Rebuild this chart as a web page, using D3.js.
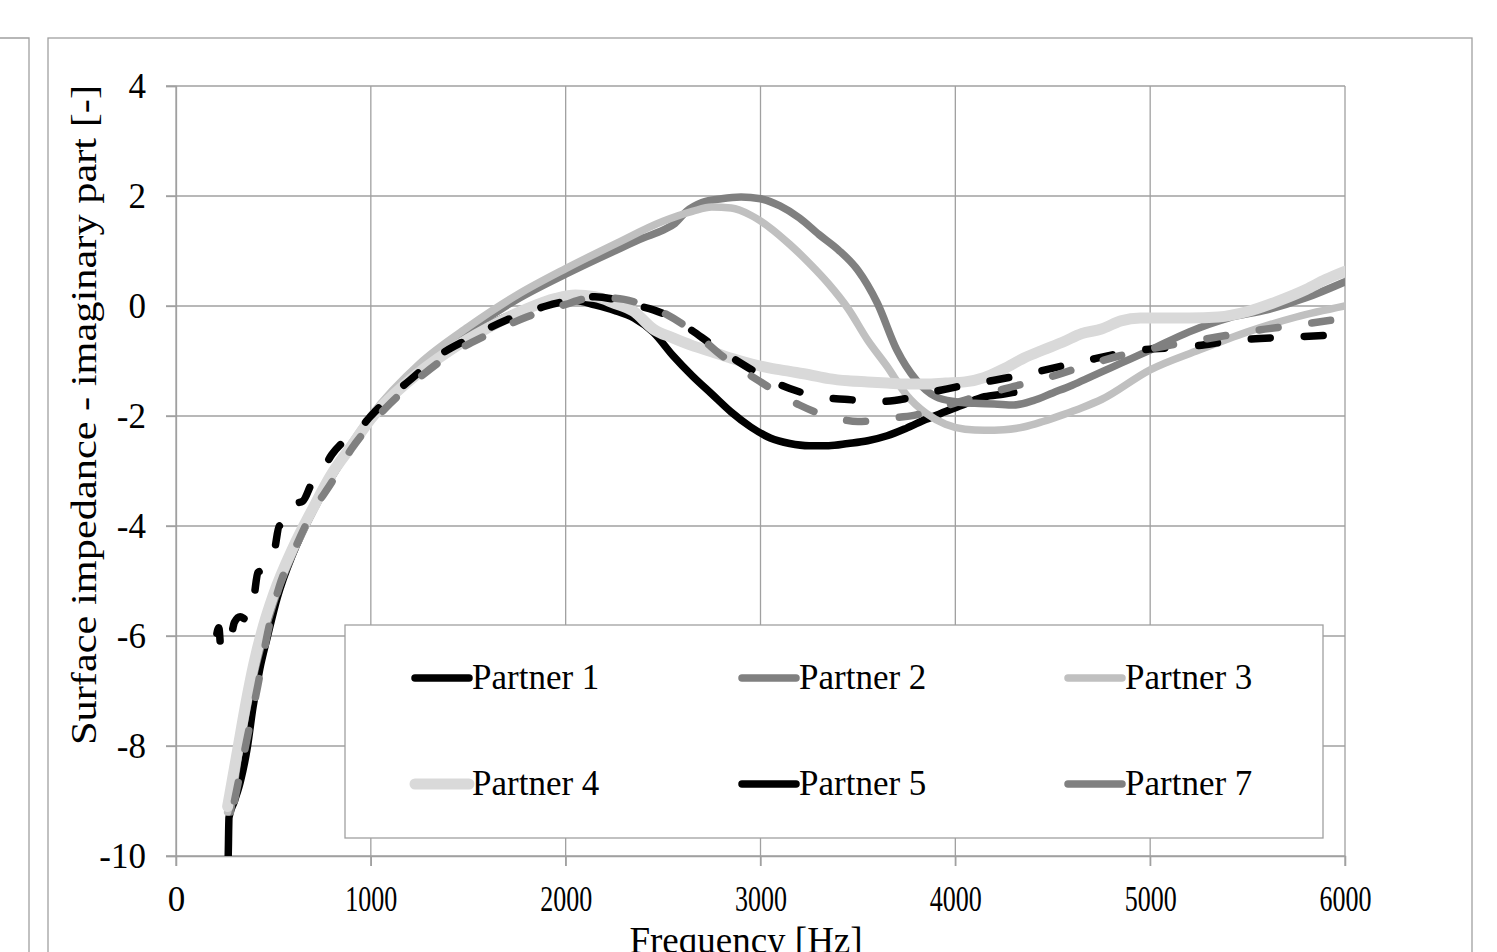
<!DOCTYPE html>
<html>
<head>
<meta charset="utf-8">
<script src="https://cdn.jsdelivr.net/npm/d3@7"></script>
<style>
  body { margin: 0; background: #fff; }
  svg { display: block; }
  text { font-family: "Liberation Serif", "Times New Roman", serif; fill: #000; }
</style>
</head>
<body>
<svg id="chart" width="1497" height="952"></svg>
<script>
// values: frequency [Hz] and imaginary part of surface impedance
var p1Freq = [262, 268, 272, 300, 330, 365, 395, 430, 470, 520, 600, 700, 800, 900, 1000, 1200, 1400, 1600, 1800, 1950, 2050, 2150, 2250, 2350, 2450, 2550, 2650, 2750, 2850, 2950, 3050, 3150, 3250, 3350, 3450, 3550, 3650, 3750, 3850, 3950, 4050, 4150, 4250, 4300]
var p1Val  = [-10.6, -10.0, -9.3, -9.0, -8.65, -8.05, -7.3, -6.6, -6.0, -5.3, -4.5, -3.75, -3.1, -2.55, -2.05, -1.3, -0.75, -0.35, -0.05, 0.08, 0.1, 0.02, -0.08, -0.22, -0.48, -0.9, -1.27, -1.6, -1.93, -2.2, -2.4, -2.5, -2.54, -2.54, -2.5, -2.45, -2.36, -2.22, -2.06, -1.92, -1.78, -1.65, -1.6, -1.57]

var p2Freq = [280, 320, 360, 400, 450, 500, 600, 700, 800, 900, 1000, 1250, 1500, 1750, 2000, 2250, 2400, 2500, 2560, 2620, 2700, 2800, 2900, 3000, 3100, 3200, 3300, 3400, 3500, 3600, 3700, 3800, 3900, 4000, 4100, 4200, 4300, 4400, 4500, 4600, 4700, 4800, 4900, 5000, 5200, 5400, 5600, 5800, 6000]
var p2Val  = [-9.2, -8.2, -7.4, -6.7, -6.0, -5.4, -4.5, -3.75, -3.1, -2.55, -2.05, -1.12, -0.45, 0.12, 0.58, 1.0, 1.24, 1.38, 1.5, 1.72, 1.88, 1.95, 1.98, 1.95, 1.82, 1.6, 1.3, 1.02, 0.65, 0.05, -0.8, -1.35, -1.65, -1.74, -1.77, -1.78, -1.8, -1.72, -1.58, -1.44, -1.28, -1.12, -0.96, -0.8, -0.47, -0.22, -0.07, 0.15, 0.44]

var p3Freq = [265, 290, 320, 360, 400, 450, 500, 600, 700, 800, 900, 1000, 1250, 1500, 1750, 2000, 2250, 2500, 2650, 2750, 2850, 2950, 3050, 3150, 3250, 3350, 3450, 3550, 3650, 3750, 3850, 3950, 4050, 4150, 4250, 4350, 4450, 4550, 4650, 4750, 5000, 5250, 5500, 5750, 6000]
var p3Val  = [-9.2, -8.8, -8.1, -7.3, -6.6, -5.9, -5.3, -4.4, -3.7, -3.05, -2.5, -2.0, -1.05, -0.38, 0.2, 0.68, 1.12, 1.54, 1.72, 1.8, 1.78, 1.65, 1.42, 1.12, 0.78, 0.4, -0.05, -0.62, -1.1, -1.62, -1.95, -2.15, -2.24, -2.26, -2.25, -2.2, -2.1, -1.98, -1.85, -1.7, -1.16, -0.8, -0.47, -0.2, 0.0]

var p4Freq = [265, 290, 320, 360, 400, 450, 500, 600, 700, 800, 900, 1000, 1200, 1400, 1600, 1800, 1950, 2050, 2150, 2250, 2350, 2450, 2550, 2650, 2750, 2850, 2950, 3050, 3150, 3250, 3350, 3450, 3550, 3650, 3750, 3850, 3950, 4050, 4150, 4250, 4350, 4450, 4550, 4650, 4750, 4850, 4950, 5050, 5200, 5350, 5500, 5650, 5800, 5900, 6000]
var p4Val  = [-9.1, -8.6, -8.0, -7.2, -6.5, -5.8, -5.25, -4.4, -3.7, -3.05, -2.55, -2.05, -1.35, -0.82, -0.4, -0.05, 0.14, 0.2, 0.17, 0.05, -0.1, -0.42, -0.58, -0.72, -0.83, -0.95, -1.05, -1.13, -1.19, -1.25, -1.32, -1.36, -1.38, -1.4, -1.42, -1.42, -1.4, -1.38, -1.3, -1.14, -0.95, -0.8, -0.66, -0.5, -0.42, -0.27, -0.22, -0.22, -0.22, -0.2, -0.1, 0.08, 0.3, 0.48, 0.63]

var p5Freq = [210, 220, 230, 245, 260, 280, 300, 330, 360, 385, 400, 420, 440, 470, 500, 530, 560, 600, 650, 700, 750, 800, 850, 900, 950, 1000, 1100, 1200, 1350, 1500, 1700, 1900, 2050, 2150, 2250, 2350, 2450, 2550, 2650, 2750, 2850, 2950, 3050, 3150, 3300, 3450, 3600, 3750, 3900, 4050, 4200, 4400, 4650, 4950, 5200, 5450, 5750, 6000]
var p5Val  = [-5.95, -5.85, -6.2, -6.05, -5.95, -6.0, -5.75, -5.65, -5.7, -5.55, -5.3, -4.85, -4.8, -4.55, -4.5, -4.0, -3.95, -3.6, -3.55, -3.2, -3.0, -2.7, -2.5, -2.35, -2.2, -2.0, -1.65, -1.35, -0.9, -0.6, -0.25, 0.0, 0.12, 0.17, 0.12, 0.02, -0.07, -0.22, -0.45, -0.7, -0.93, -1.15, -1.35, -1.5, -1.65, -1.7, -1.74, -1.68, -1.55, -1.44, -1.35, -1.21, -1.01, -0.8, -0.74, -0.62, -0.56, -0.52]

var p7Freq = [300, 340, 380, 420, 470, 530, 600, 700, 800, 900, 1000, 1100, 1250, 1400, 1600, 1800, 2000, 2100, 2200, 2300, 2400, 2500, 2600, 2700, 2800, 2900, 3000, 3100, 3200, 3300, 3400, 3500, 3600, 3700, 3800, 3900, 4000, 4100, 4200, 4300, 4400, 4550, 4700, 4850, 5000, 5150, 5350, 5550, 5750, 6000]
var p7Val  = [-9.0, -8.3, -7.6, -6.9, -5.95, -5.1, -4.5, -3.75, -3.2, -2.6, -2.15, -1.77, -1.3, -0.9, -0.52, -0.2, 0.03, 0.13, 0.15, 0.12, 0.02, -0.12, -0.33, -0.6, -0.9, -1.15, -1.38, -1.6, -1.8, -1.95, -2.05, -2.1, -2.08, -2.03, -1.98, -1.88, -1.76, -1.66, -1.56, -1.46, -1.38, -1.22, -1.05, -0.9, -0.78, -0.68, -0.56, -0.44, -0.35, -0.22]

var seriesNames = ["Partner 1", "Partner 2", "Partner 3", "Partner 4", "Partner 5", "Partner 7"]
var xTicks = [0, 1000, 2000, 3000, 4000, 5000, 6000]
var yTicks = [4, 2, 0, -2, -4, -6, -8, -10]

var series = [
  {name: seriesNames[0], f: p1Freq, v: p1Val, color: "#000000", width: 7.5, dash: null},
  {name: seriesNames[1], f: p2Freq, v: p2Val, color: "#808080", width: 7.5, dash: null},
  {name: seriesNames[2], f: p3Freq, v: p3Val, color: "#c0c0c0", width: 7.5, dash: null},
  {name: seriesNames[3], f: p4Freq, v: p4Val, color: "#d9d9d9", width: 11, dash: null},
  {name: seriesNames[4], f: p5Freq, v: p5Val, color: "#000000", width: 7.5, dash: "19,34"},
  {name: seriesNames[5], f: p7Freq, v: p7Val, color: "#808080", width: 7.5, dash: "19,34"}
]

var svg = d3.select("#chart")
var grid = "#a0a0a0"

// outer frames (this chart and the edge of the neighbouring one)
svg.append("rect").attr("x", 48).attr("y", 38).attr("width", 1424).attr("height", 960)
   .attr("fill", "none").attr("stroke", grid).attr("stroke-width", 1.3)
svg.append("path").attr("d", "M0,38H29V960").attr("fill", "none").attr("stroke", grid).attr("stroke-width", 1.3)

var plotL = 176, plotR = 1345, plotT = 86, plotB = 856

var x = d3.scaleLinear().domain([0, 6000]).range([plotL, plotR])
var y = d3.scaleLinear().domain([-10, 4]).range([plotB, plotT])

// gridlines
svg.append("g").selectAll("line").data(yTicks).enter().append("line")
   .attr("x1", plotL - 10).attr("x2", plotR)
   .attr("y1", d => y(d)).attr("y2", d => y(d))
   .attr("stroke", grid).attr("stroke-width", 1.3)
svg.append("g").selectAll("line").data(xTicks).enter().append("line")
   .attr("x1", d => x(d)).attr("x2", d => x(d))
   .attr("y1", plotT).attr("y2", plotB + 10)
   .attr("stroke", grid).attr("stroke-width", 1.3)

// plain hyphen for negatives, no thousands separator
var plain = d => String(d)
var axisY = d3.axisLeft(y).tickValues(yTicks).tickSize(10).tickPadding(20).tickFormat(plain)
var axisX = d3.axisBottom(x).tickValues(xTicks).tickSize(10).tickPadding(20).tickFormat(plain)

var gy = svg.append("g").attr("transform", "translate(" + plotL + ",0)").call(axisY)
var gx = svg.append("g").attr("transform", "translate(0," + plotB + ")").call(axisX)
;[gx, gy].forEach(function(g) {
  g.attr("font-family", null).attr("font-size", null)
  g.select(".domain").attr("stroke", grid).attr("stroke-width", 1.3)
  g.selectAll(".tick line").attr("stroke", grid).attr("stroke-width", 1.3)
  g.selectAll(".tick text").attr("font-size", 35).attr("fill", "#000")
})
gx.selectAll(".tick text").filter(d => d >= 1000)
  .attr("textLength", 52).attr("lengthAdjust", "spacingAndGlyphs")

// series
svg.append("clipPath").attr("id", "plotClip").append("rect")
   .attr("x", plotL).attr("y", plotT).attr("width", plotR - plotL).attr("height", plotB - plotT)

var line = d3.line().x(d => x(d[0])).y(d => y(d[1])).curve(d3.curveMonotoneX)

svg.append("g").attr("clip-path", "url(#plotClip)")
   .selectAll("path").data(series).enter().append("path")
   .attr("d", s => line(s.f.map((f, i) => [f, s.v[i]])))
   .attr("fill", "none")
   .attr("stroke", s => s.color)
   .attr("stroke-width", s => s.width)
   .attr("stroke-linecap", "round")
   .attr("stroke-linejoin", "round")
   .attr("stroke-dasharray", s => s.dash)

// legend
var legend = svg.append("g")
legend.append("rect").attr("x", 345).attr("y", 625).attr("width", 978).attr("height", 213)
      .attr("fill", "#fff").attr("stroke", grid).attr("stroke-width", 1.3)
var colX = [415, 742, 1068], rowY = [678, 784]
var items = legend.selectAll("g.item").data(series).enter().append("g").attr("class", "item")
  .attr("transform", (s, i) => "translate(" + colX[i % 3] + "," + rowY[Math.floor(i / 3)] + ")")
items.append("line").attr("x1", 0).attr("x2", 54).attr("y1", 0).attr("y2", 0)
  .attr("stroke", s => s.color).attr("stroke-width", s => s.width)
  .attr("stroke-linecap", "round")
items.append("text").attr("x", 57).attr("y", 11).attr("font-size", 35).text(s => s.name)

// axis titles
svg.append("text").attr("transform", "translate(96,415) rotate(-90)")
   .attr("text-anchor", "middle").attr("font-size", 35)
   .attr("textLength", 660).attr("lengthAdjust", "spacingAndGlyphs")
   .text("Surface impedance - imaginary part [-]")
svg.append("text").attr("x", 746).attr("y", 953).attr("text-anchor", "middle")
   .attr("font-size", 37).text("Frequency [Hz]")
</script>
</body>
</html>
